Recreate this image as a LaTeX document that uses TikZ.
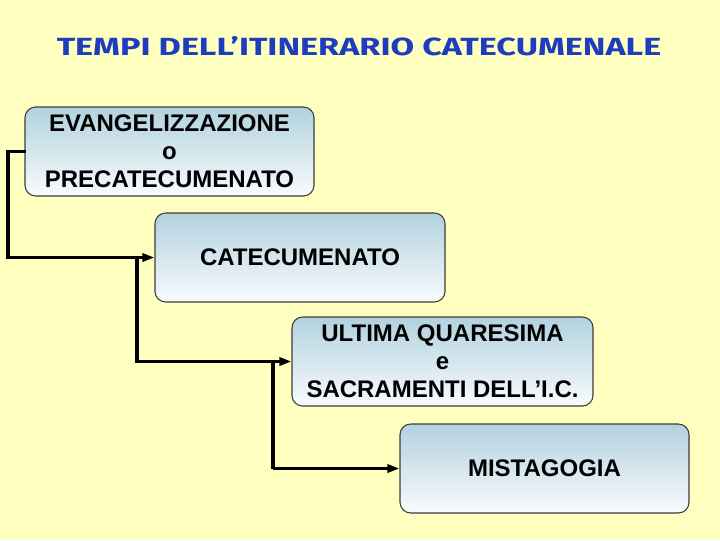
\documentclass[tikz,border=0pt]{standalone}
\usepackage{fontspec}
\setmainfont{Liberation Sans}
\newfontfamily\titlefont{Fira Sans}
\usetikzlibrary{arrows.meta}
\definecolor{bgyellow}{RGB}{255,255,192}
\definecolor{titleblue}{RGB}{30,60,190}
\definecolor{boxtop}{RGB}{178,210,222}
\definecolor{boxbot}{RGB}{248,251,253}
\definecolor{boxline}{RGB}{60,60,60}
\tikzset{
  stagebox/.style={draw=boxline, line width=0.8pt, rounded corners=8pt,
    top color=boxtop, bottom color=boxbot, align=center,
    font=\bfseries\fontsize{18}{21}\selectfont, inner sep=0pt},
  flow/.style={line width=2.5pt, -{Triangle[length=9pt,width=6pt]}},
  plain/.style={line width=2.5pt}
}
\begin{document}
\begin{tikzpicture}[x=0.75pt,y=-0.75pt]
\fill[bgyellow] (0,0) rectangle (720,540);
\useasboundingbox (0,0) rectangle (720,540);
\node[text=titleblue, font=\titlefont\bfseries\fontsize{19}{22}\selectfont, xscale=1.35, yscale=0.98] (title) at (359,46) {TEMPI DELL’ITINERARIO CATECUMENALE};
\node[stagebox, minimum width=216.75pt, minimum height=66.75pt] (b1) at (169.5,151.5) {EVANGELIZZAZIONE\\o\\PRECATECUMENATO};
\node[stagebox, minimum width=217.5pt, minimum height=66.75pt] (b2) at (300,257.5) {CATECUMENATO};
\node[stagebox, minimum width=225.75pt, minimum height=66.75pt] (b3) at (442.5,361.5) {ULTIMA QUARESIMA\\e\\SACRAMENTI DELL’I.C.};
\node[stagebox, minimum width=216.75pt, minimum height=66.75pt] (b4) at (544.5,468.5) {MISTAGOGIA};
\coordinate (c1a) at (8,151.5);
\coordinate (c1b) at (8,257.5);
\coordinate (j1) at (137,257.5);
\coordinate (c2b) at (137,361.5);
\coordinate (j2) at (273,361.5);
\coordinate (c3b) at (273,468.5);
\draw[plain, line cap=rect] (b1.west) -- (c1a) -- (c1b) -- (j1);
\draw[flow] (j1) -- (b2.west);
\draw[plain] (j1) -- (c2b) -- (j2);
\draw[flow] (j2) -- (b3.west);
\draw[plain] (j2) -- (c3b);
\draw[flow] (c3b) -- (b4.west);
\end{tikzpicture}
\end{document}
